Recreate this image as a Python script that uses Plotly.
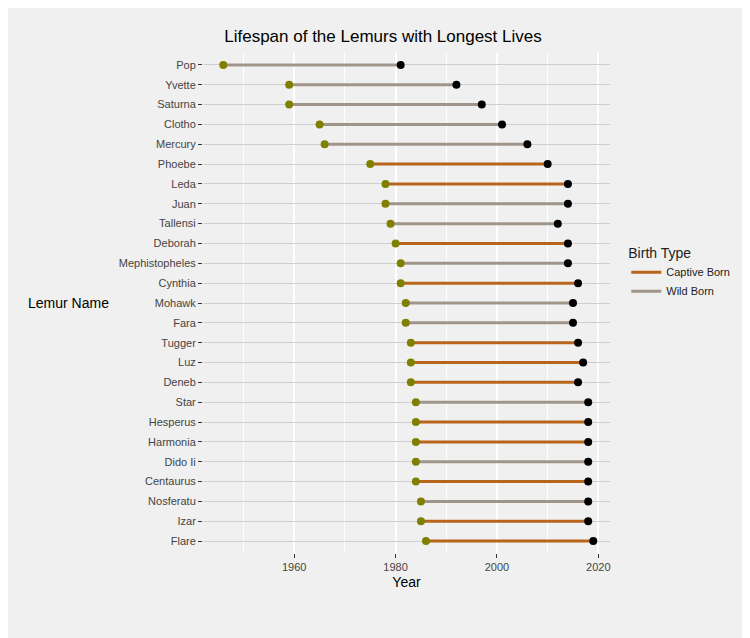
import plotly.graph_objects as go

names = ["Pop", "Yvette", "Saturna", "Clotho", "Mercury", "Phoebe", "Leda", "Juan",
         "Tallensi", "Deborah", "Mephistopheles", "Cynthia", "Mohawk", "Fara", "Tugger",
         "Luz", "Deneb", "Star", "Hesperus", "Harmonia", "Dido Ii", "Centaurus",
         "Nosferatu", "Izar", "Flare"]
birth = [1946, 1959, 1959, 1965, 1966, 1975, 1978, 1978, 1979, 1980, 1981, 1981, 1982,
         1982, 1983, 1983, 1983, 1984, 1984, 1984, 1984, 1984, 1985, 1985, 1986]
death = [1981, 1992, 1997, 2001, 2006, 2010, 2014, 2014, 2012, 2014, 2014, 2016, 2015,
         2015, 2016, 2017, 2016, 2018, 2018, 2018, 2018, 2018, 2018, 2018, 2019]
btype = ["Wild Born", "Wild Born", "Wild Born", "Wild Born", "Wild Born", "Captive Born",
         "Captive Born", "Wild Born", "Wild Born", "Captive Born", "Wild Born", "Captive Born",
         "Wild Born", "Wild Born", "Captive Born", "Captive Born", "Captive Born", "Wild Born",
         "Captive Born", "Captive Born", "Wild Born", "Captive Born", "Wild Born",
         "Captive Born", "Captive Born"]

colors = {"Captive Born": "#B8651B", "Wild Born": "#A0958A"}

fig = go.Figure()
for t in ["Captive Born", "Wild Born"]:
    xs, ys = [], []
    for n, b, d, k in zip(names, birth, death, btype):
        if k == t:
            xs += [b, d, None]
            ys += [n, n, None]
    fig.add_trace(go.Scatter(x=xs, y=ys, mode="lines", name=t,
                             line=dict(color=colors[t], width=3)))

fig.add_trace(go.Scatter(x=birth, y=names, mode="markers", showlegend=False,
                         marker=dict(color="#808000", size=8)))
fig.add_trace(go.Scatter(x=death, y=names, mode="markers", showlegend=False,
                         marker=dict(color="black", size=8)))

fig.update_layout(
    width=750, height=638,
    paper_bgcolor="#F0F0F0", plot_bgcolor="#F0F0F0",
    font=dict(family="Liberation Sans, Arial", color="#222"),
    title=dict(text="Lifespan of the Lemurs with Longest Lives", x=0.5, xanchor="center",
               xref="container", y=0.965, font=dict(size=17, color="black")),
    margin=dict(l=195, r=148, t=45, b=93),
    legend=dict(title=dict(text="Birth Type", font=dict(size=14)), x=1.04, y=0.56,
                yanchor="middle", font=dict(size=11), bgcolor="rgba(0,0,0,0)"),
    xaxis=dict(range=[1942, 2022.3], tickvals=[1960, 1980, 2000, 2020],
               showgrid=True, gridcolor="white", gridwidth=1.5,
               minor=dict(tickvals=[1950, 1970, 1990, 2010], showgrid=True,
                          gridcolor="white", gridwidth=0.7),
               zeroline=False, ticks="outside", ticklen=4, tickcolor="#333",
               tickfont=dict(size=11, color="#444"),
               title=dict(text="Year", font=dict(size=14, color="black"), standoff=4)),
    yaxis=dict(categoryorder="array", categoryarray=names, range=[24.6, -0.6],
               showgrid=True, gridcolor="#CFCFCF", gridwidth=1, zeroline=False,
               ticks="outside", ticklen=4, tickcolor="#333",
               tickfont=dict(size=11, color="#444")),
)
fig.add_annotation(text="Lemur Name", xref="paper", yref="paper", x=-0.33, y=0.5,
                   xanchor="center", showarrow=False, font=dict(size=14, color="black"))

fig.write_html("out.html")
